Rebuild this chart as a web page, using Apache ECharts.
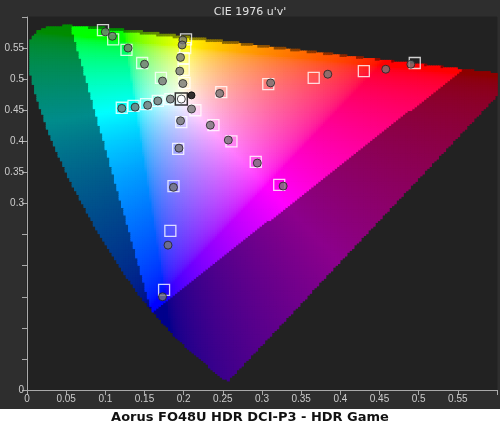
<!DOCTYPE html>
<html>
<head>
<meta charset="utf-8">
<script src="https://cdn.jsdelivr.net/npm/echarts@6/dist/echarts.min.js"></script>
<style>html,body{margin:0;padding:0;background:#fff}#main{width:500px;height:430px}</style>
</head>
<body>
<div id="main"></div>
<script>
// spectral locus, CIE 1931 x,y (nm 380..700)
const locusXY = [
  [0.1741,0.0050],[0.1733,0.0048],[0.1714,0.0051],[0.1689,0.0069],[0.1644,0.0109],
  [0.1566,0.0177],[0.1440,0.0297],[0.1241,0.0578],[0.1096,0.0868],[0.0913,0.1327],
  [0.0687,0.2007],[0.0454,0.2950],[0.0235,0.4127],[0.0082,0.5384],[0.0039,0.6548],
  [0.0139,0.7502],[0.0389,0.8120],[0.0743,0.8338],[0.1142,0.8262],[0.1547,0.8059],
  [0.2296,0.7543],[0.3016,0.6923],[0.3731,0.6245],[0.4441,0.5547],[0.5125,0.4866],
  [0.6270,0.3725],[0.6915,0.3083],[0.7347,0.2653]
];
// Rec.2020 primaries u'v'
const rec2020 = [[0.5566,0.5165],[0.0556,0.5868],[0.1593,0.1258]];

// targets (squares) and measurements (circles), u'v'
const targetU = [0.097,0.110,0.127,0.147,0.171, 0.121,0.136,0.152,0.167,0.183,
  0.203,0.202,0.200,0.200,0.201, 0.215,0.238,0.261,0.292,0.322,
  0.248,0.308,0.366,0.430,0.495, 0.197,0.193,0.187,0.183,0.175];
const targetV = [0.579,0.564,0.547,0.526,0.502, 0.454,0.457,0.460,0.465,0.468,
  0.564,0.550,0.534,0.515,0.494, 0.450,0.426,0.400,0.367,0.330,
  0.479,0.492,0.502,0.513,0.526, 0.431,0.388,0.328,0.256,0.161];
const measU = [0.100,0.109,0.129,0.150,0.173, 0.121,0.138,0.154,0.167,0.183,
  0.199,0.198,0.196,0.195,0.199, 0.210,0.234,0.257,0.294,0.327,
  0.246,0.311,0.384,0.458,0.490, 0.196,0.194,0.187,0.180,0.173];
const measV = [0.576,0.569,0.550,0.524,0.497, 0.453,0.455,0.458,0.465,0.468,
  0.563,0.555,0.535,0.513,0.493, 0.452,0.426,0.402,0.365,0.328,
  0.477,0.494,0.508,0.516,0.524, 0.433,0.389,0.326,0.233,0.150];
const whiteTarget = [0.197, 0.468];
const whiteMeas = [0.210, 0.474];

const xTicks = [0,0.05,0.1,0.15,0.2,0.25,0.3,0.35,0.4,0.45,0.5,0.55];
const yTickLabels = [0,0.3,0.35,0.4,0.45,0.5,0.55];

function xyToUv(p) {
  const d = -2 * p[0] + 12 * p[1] + 3;
  return [4 * p[0] / d, 9 * p[1] / d];
}
const locus = locusXY.map(xyToUv);

function inPoly(pt, poly) {
  let c = false;
  for (let i = 0, j = poly.length - 1; i < poly.length; j = i++) {
    const a = poly[i], b = poly[j];
    if ((a[1] > pt[1]) !== (b[1] > pt[1]) &&
        pt[0] < (b[0] - a[0]) * (pt[1] - a[1]) / (b[1] - a[1]) + a[0]) c = !c;
  }
  return c;
}

function uvColor(u, v, dark) {
  const d = 6 * u - 16 * v + 12;
  const x = 9 * u / d, y = 4 * v / d;
  const X = x / y, Y = 1, Z = (1 - x - y) / y;
  let r = 3.2406 * X - 1.5372 * Y - 0.4986 * Z;
  let g = -0.9689 * X + 1.8758 * Y + 0.0415 * Z;
  let b = 0.0557 * X - 0.2040 * Y + 1.0570 * Z;
  r = Math.max(r, 0); g = Math.max(g, 0); b = Math.max(b, 0);
  const m = Math.max(r, g, b);
  const gam = c => {
    c = c / m;
    c = c <= 0.0031308 ? 12.92 * c : 1.055 * Math.pow(c, 1 / 2.4) - 0.055;
    return Math.round(c * 255 * (dark ? 0.55 : 1));
  };
  return 'rgb(' + gam(r) + ',' + gam(g) + ',' + gam(b) + ')';
}

const step = 0.003;
const cells = [];
for (let u = step / 2; u < 0.6; u += step) {
  for (let v = step / 2; v < 0.6; v += step) {
    if (inPoly([u, v], locus)) {
      cells.push([u, v, uvColor(u, v, !inPoly([u, v], rec2020))]);
    }
  }
}

const chart = echarts.init(document.getElementById('main'));
chart.setOption({
  backgroundColor: '#2e2e2e',
  animation: false,
  title: {
    text: "CIE 1976 u'v'", left: 'center', top: 2,
    textStyle: { color: '#e0e0e0', fontSize: 11, fontWeight: 'normal', fontFamily: 'DejaVu Sans' }
  },
  graphic: [
    { type: 'rect', left: 0, top: 409, shape: { width: 500, height: 21 }, style: { fill: '#fff' }, z: 0 },
    { type: 'text', left: 'center', top: 411, style: { text: 'Aorus FO48U HDR DCI-P3 - HDR Game', fill: '#111', font: 'bold 13px "DejaVu Sans"' } }
  ],
  grid: { left: 27, right: 3, top: 17, bottom: 40, backgroundColor: '#222', show: true, borderColor: '#222' },
  xAxis: {
    type: 'value', min: 0, max: 0.6, interval: 0.05,
    axisLine: { lineStyle: { color: '#aaa' } },
    axisTick: { lineStyle: { color: '#aaa' } },
    splitLine: { show: false },
    axisLabel: { color: '#ccc', fontSize: 10, margin: 4,
      formatter: v => xTicks.some(t => Math.abs(t - v) < 1e-6) ? String(+v.toFixed(2)) : '' }
  },
  yAxis: {
    type: 'value', min: 0, max: 0.6, interval: 0.05,
    axisLine: { show: true, lineStyle: { color: '#aaa' } },
    axisTick: { show: true, lineStyle: { color: '#aaa' } },
    splitLine: { show: false },
    axisLabel: { color: '#ccc', fontSize: 10, margin: 3,
      formatter: v => yTickLabels.some(t => Math.abs(t - v) < 1e-6) ? String(+v.toFixed(2)) : '' }
  },
  series: [
    {
      type: 'custom', data: cells, silent: true, z: 1,
      renderItem: (params, api) => {
        const p = api.coord([api.value(0) - step / 2, api.value(1) + step / 2]);
        const s = api.size([step, step]);
        return { type: 'rect', shape: { x: p[0], y: p[1], width: s[0] + 0.8, height: s[1] + 0.8 },
          style: { fill: cells[params.dataIndex][2] } };
      }
    },
    {
      type: 'scatter', z: 3, symbol: 'rect', symbolSize: 11,
      data: targetU.map((u, i) => [u, targetV[i]]),
      itemStyle: { color: 'rgba(0,0,0,0)', borderColor: '#fff', borderWidth: 1.3 }
    },
    {
      type: 'scatter', z: 4, symbol: 'circle', symbolSize: 8,
      data: measU.map((u, i) => [u, measV[i]]),
      itemStyle: { color: '#767676', borderColor: '#222', borderWidth: 1 }
    },
    {
      type: 'scatter', z: 4, symbol: 'rect', symbolSize: 12, data: [whiteTarget],
      itemStyle: { color: 'rgba(0,0,0,0)', borderColor: '#000', borderWidth: 1.5 }
    },
    {
      type: 'scatter', z: 5, symbol: 'circle', symbolSize: 8, data: [whiteTarget],
      itemStyle: { color: '#fff', borderColor: '#222', borderWidth: 1 }
    },
    {
      type: 'scatter', z: 5, symbol: 'circle', symbolSize: 7, data: [whiteMeas],
      itemStyle: { color: '#000', borderColor: '#000' }
    }
  ]
});
</script>
</body>
</html>
